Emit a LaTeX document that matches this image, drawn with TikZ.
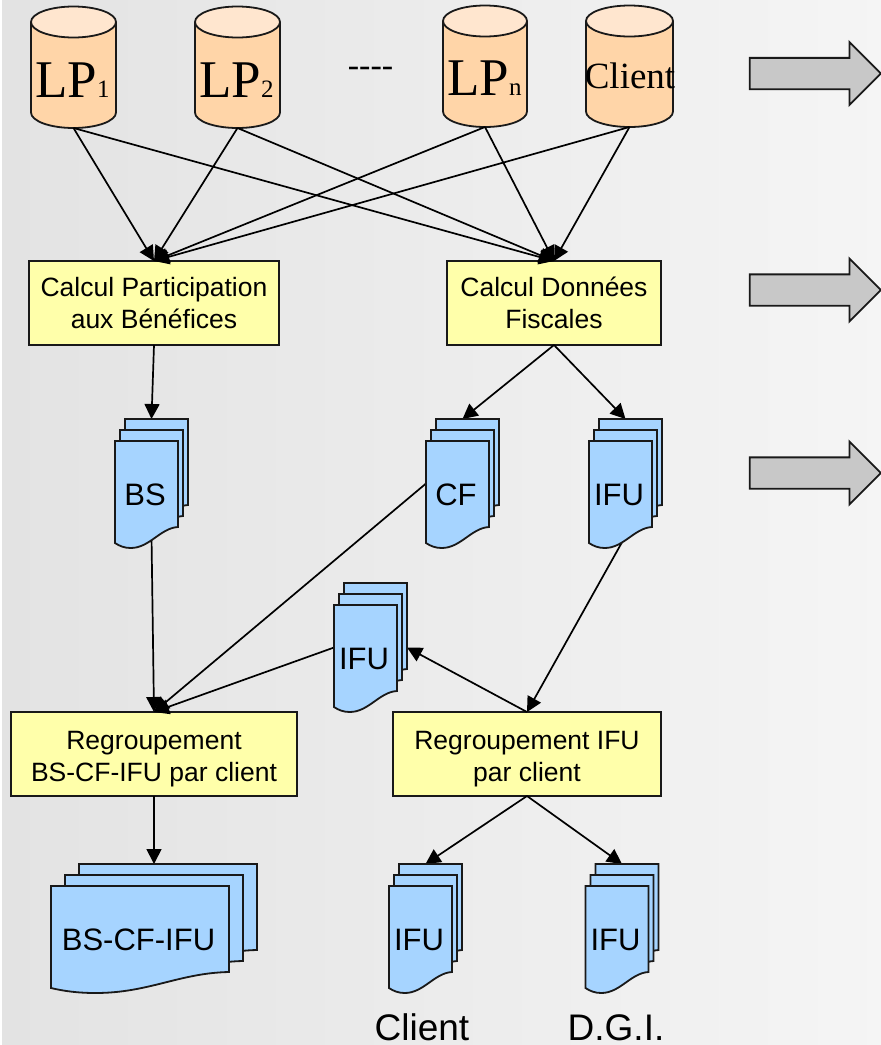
\documentclass[tikz,border=0pt]{standalone}
\usepackage{fontspec}
\setmainfont{Liberation Serif}
\setsansfont{Liberation Sans}
\usetikzlibrary{arrows.meta, backgrounds, shapes.arrows}
\pgfdeclarelayer{pages}
\pgfsetlayers{background,main,pages}
\definecolor{bodycol}{HTML}{FFD5A8}
\definecolor{endcol}{HTML}{FFE6CF}
\definecolor{pagecol}{HTML}{A6D4FF}
\definecolor{calccol}{HTML}{FFFFAA}
\definecolor{graycol}{HTML}{C8C8C8}
\tikzset{
    dbbody/.style={draw=black!90, fill=bodycol, line width=1.8pt},
    dbend/.style={draw=black!90, fill=endcol, line width=1.8pt},
    calcbox/.style={draw=black!90, fill=calccol, line width=1.8pt, align=center, font=\sffamily\fontsize{26.5}{32}\selectfont, inner sep=0, outer sep=0},
    page/.style={draw=black!90, fill=pagecol, line width=1.8pt},
    link/.style={draw=black, line width=1.7pt, -{Triangle[length=15pt,width=15pt]}},
    bigarrow/.style={draw=black!90, fill=graycol, line width=1.8pt, single arrow, single arrow head extend=15.7, single arrow head indent=0, text height=29.5pt, text depth=0pt, minimum height=131, inner sep=0, outer sep=0},
    sans/.style={font=\sffamily\fontsize{#1}{#1}\selectfont, inner sep=0},
    serif/.style={font=\fontsize{#1}{#1}\selectfont, inner sep=0}
}
\newcommand{\lowline}{\rule{0pt}{28pt}}
% top left at (x,y), width, name
\newcommand{\database}[4]{
    \begin{scope}[shift={(#1,#2)}]
        \draw[dbbody] (0,15.5) -- (0,106) arc[start angle=180, end angle=0, x radius={#3/2}, y radius=15.5] -- (#3,15.5);
        \draw[dbend] ({#3/2},15.5) ellipse[x radius={#3/2}, y radius=15.5];
        \node[minimum width=#3, minimum height=121.5, inner sep=0, outer sep=0] (#4) at ({#3/2},60.75) {};
    \end{scope}
}
\newcommand{\docpage}[3]{
    \draw[page] (#1,#2) -- ++(#3,0) -- ++(0,86)
        .. controls ({#1+0.72*#3},{#2+87}) and ({#1+0.55*#3},{#2+107}) .. ({#1+0.25*#3},{#2+107})
        .. controls ({#1+0.15*#3},{#2+107}) and ({#1+0.07*#3},{#2+105}) .. (#1,{#2+102}) -- cycle;
}
% front page at (x,y), width, shift of the pages behind, name, text
\newcommand{\docstack}[6]{
    \begin{scope}[shift={(#1,#2)}]
        \docpage{2*#4}{-22}{#3}
        \docpage{#4}{-11}{#3}
        \docpage{0}{0}{#3}
        \node[minimum width={#3+2*#4}, minimum height=129, inner sep=0, outer sep=0] (#5) at ({#3/2+#4},42.5) {};
        \coordinate (#5out) at ({#3/2+#4},95);
        \node[sans=31, anchor=base] (#5text) at ({#3/2-1.5},64) {#6};
    \end{scope}
}
\begin{document}
\begin{tikzpicture}[x=1pt, y=-1pt]
    \useasboundingbox (0,0) rectangle (881,1045);
    \database{31}{6.5}{85}{lpa}
    \database{195}{6.5}{85}{lpb}
    \database{443}{5.5}{84}{lpn}
    \database{586}{5.5}{87}{client}
    \node[serif=53, anchor=base west] (lpatext) at (35,97) {LP{\fontsize{25}{25}\selectfont 1}};
    \node[serif=53, anchor=base west] (lpbtext) at (199,97) {LP{\fontsize{25}{25}\selectfont 2}};
    \node[serif=53, anchor=base west] (lpntext) at (447,95) {LP{\fontsize{25}{25}\selectfont n}};
    \node[serif=37, anchor=base] (clienttext) at (630,88) {Client};
    \node[serif=34, anchor=base] (dots) at (370.5,76) {-{}-{}-{}-};

    \node[calcbox, minimum width=250, minimum height=84] (partic) at (154,303) {\rule{0pt}{20pt}Calcul Participation\\aux Bénéfices};
    \node[calcbox, minimum width=214, minimum height=84] (fiscal) at (554,303) {\rule{0pt}{20pt}Calcul Données\\Fiscales};
    \node[calcbox, minimum width=286, minimum height=84] (regall) at (154,754) {\lowline Regroupement\\BS-CF-IFU par client};
    \node[calcbox, minimum width=268, minimum height=84] (regifu) at (527,754) {\lowline Regroupement IFU\\par client};

    \begin{pgfonlayer}{pages}
        \docstack{115}{441}{63}{5}{bs}{BS}
        \docstack{426}{441}{63}{5}{cf}{CF}
        \docstack{589}{441}{63}{5}{ifua}{IFU}
        \docstack{334}{605}{63}{5}{ifub}{IFU}
        \docstack{51}{886}{178}{14}{final}{BS-CF-IFU}
        \docstack{389}{886}{63}{5}{ific}{IFU}
        \docstack{585.5}{886}{63}{5}{ifid}{IFU}
    \end{pgfonlayer}

    \node[sans=37, anchor=base] (clientlab) at (422,1040) {Client};
    \node[sans=37, anchor=base] (dgi) at (616,1040) {D.G.I.};

    \node[bigarrow] (arra) at (807.5,73.5) {};
    \node[bigarrow] (arrb) at (807.5,290) {};
    \node[bigarrow] (arrc) at (807.5,473) {};

    \begin{scope}[on background layer]
        \shade[left color=black!11, middle color=black!6, right color=black!4] (2,0) rectangle (881,1045);
    \end{scope}

    \draw[link] (lpa.south) -- (partic.north);
    \draw[link] (lpb.south) -- (partic.north);
    \draw[link] (lpn.south) -- (partic.north);
    \draw[link] (client.south) -- (partic.north);
    \draw[link] (lpa.south) -- (fiscal.north);
    \draw[link] (lpb.south) -- (fiscal.north);
    \draw[link] (lpn.south) -- (fiscal.north);
    \draw[link] (client.south) -- (fiscal.north);
    \draw[link] (partic.south) -- (bs.north);
    \draw[link] (fiscal.south) -- (cf.north);
    \draw[link] (fiscal.south) -- (ifua.north);
    \draw[link] (bsout) -- (regall.north);
    \draw[link] (cf.west) -- (regall.north);
    \draw[link] (ifub.west) -- (regall.north);
    \draw[link] (ifuaout) -- (regifu.north);
    \draw[link] (regifu.north) -- (ifub.east);
    \draw[link] (regall.south) -- (final.north);
    \draw[link] (regifu.south) -- (ific.north);
    \draw[link] (regifu.south) -- (ifid.north);
\end{tikzpicture}
\end{document}
